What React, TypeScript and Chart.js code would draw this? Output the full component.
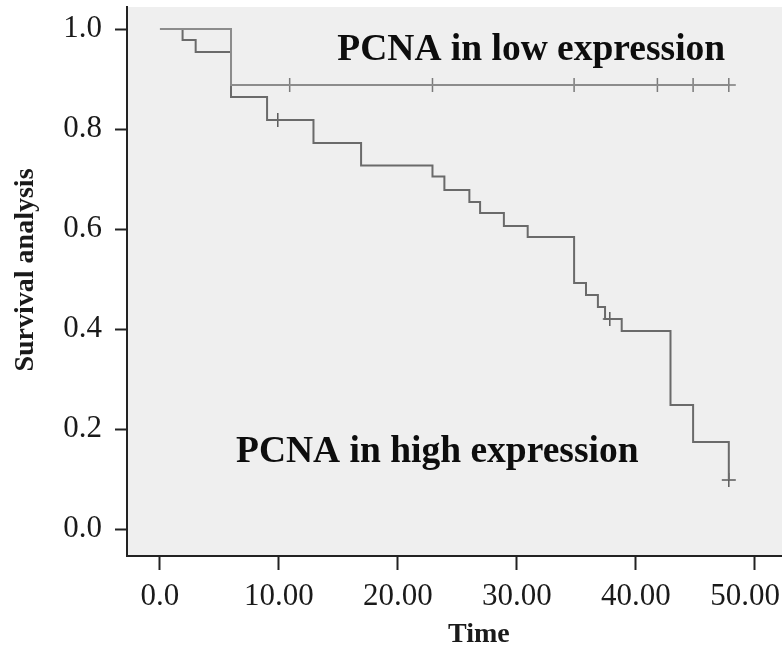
import { useEffect, useRef } from 'react';
import { Chart, registerables } from 'chart.js';

Chart.register(...registerables);

// High-expression group: Kaplan–Meier step points (time, survival)
const highTimes = [0, 1.9, 3.0, 5.97, 9.0, 12.9, 16.9, 22.9, 23.9, 26.0, 26.9, 28.9, 30.9, 34.8, 35.8, 36.8, 37.4, 38.8, 42.9, 44.8, 47.8];
const highSurv = [1.0, 0.978, 0.954, 0.864, 0.818, 0.772, 0.727, 0.705, 0.678, 0.654, 0.632, 0.606, 0.584, 0.492, 0.468, 0.444, 0.42, 0.396, 0.248, 0.174, 0.098];
const highCensorTimes = [9.9, 37.8, 47.8];
const highCensorSurv = [0.818, 0.42, 0.098];

// Low-expression group
const lowTimes = [0, 5.97, 47.8];
const lowSurv = [1.0, 0.888, 0.888];
const lowCensorTimes = [10.9, 22.9, 34.8, 41.8, 44.8, 47.8];
const lowCensorSurv = [0.888, 0.888, 0.888, 0.888, 0.888, 0.888];

// Axis ticks
const xTickValues = [0, 10, 20, 30, 40, 50];
const xTickLabels = ['0.0', '10.00', '20.00', '30.00', '40.00', '50.00'];
const yTickValues = [0, 0.2, 0.4, 0.6, 0.8, 1.0];
const yTickLabels = ['0.0', '0.2', '0.4', '0.6', '0.8', '1.0'];

const xTitle = 'Time';
const yTitle = 'Survival analysis';
const lowLabel = 'PCNA in low expression';
const highLabel = 'PCNA in high expression';

const SERIF = "'Liberation Serif', 'Times New Roman', serif";

export default function App() {
  const ref = useRef<HTMLCanvasElement | null>(null);

  useEffect(() => {
    const canvas = ref.current;
    if (!canvas) return;

    const toPts = (t: number[], s: number[]) => t.map((x, i) => ({ x, y: s[i] }));

    const decor = {
      id: 'decor',
      beforeDraw(chart: any) {
        const { ctx, chartArea } = chart;
        ctx.save();
        ctx.fillStyle = '#efefef';
        ctx.fillRect(chartArea.left, chartArea.top, chartArea.right - chartArea.left, chartArea.bottom - chartArea.top);
        ctx.restore();
      },
      afterDraw(chart: any) {
        const { ctx, chartArea, width } = chart;
        const xs = chart.scales.x;
        const ys = chart.scales.y;
        ctx.save();
        // x tick labels
        ctx.font = `31px ${SERIF}`;
        ctx.fillStyle = '#1a1a1a';
        ctx.textAlign = 'center';
        ctx.textBaseline = 'alphabetic';
        xTickValues.forEach((v, i) => {
          const w = ctx.measureText(xTickLabels[i]).width;
          let px = xs.getPixelForValue(v);
          px = Math.min(px, width - 2 - w / 2);
          ctx.fillText(xTickLabels[i], px, chartArea.bottom + 49);
        });
        // x title
        ctx.font = `bold 28px ${SERIF}`;
        ctx.fillText(xTitle, xs.getPixelForValue(26.8), chartArea.bottom + 86);
        // y title
        ctx.save();
        ctx.translate(33, ys.getPixelForValue(0.518));
        ctx.rotate(-Math.PI / 2);
        ctx.textAlign = 'center';
        ctx.fillText(yTitle, 0, 0);
        ctx.restore();
        // annotations
        ctx.font = `bold 37.5px ${SERIF}`;
        ctx.fillStyle = '#0d0d0d';
        ctx.textAlign = 'center';
        ctx.fillText(lowLabel, xs.getPixelForValue(31.2), ys.getPixelForValue(0.938));
        ctx.fillText(highLabel, xs.getPixelForValue(23.3), ys.getPixelForValue(0.134));
        ctx.restore();
      },
    };

    const chart = new Chart(canvas, {
      type: 'line',
      data: {
        datasets: [
          {
            label: 'low',
            data: toPts(lowTimes, lowSurv),
            stepped: 'before',
            borderColor: '#8c8c8c',
            borderWidth: 2,
            pointRadius: 0,
            fill: false,
          },
          {
            label: 'high',
            data: toPts(highTimes, highSurv),
            stepped: 'before',
            borderColor: '#6a6a6a',
            borderWidth: 2,
            pointRadius: 0,
            fill: false,
          },
          {
            label: 'low censored',
            type: 'scatter',
            data: toPts(lowCensorTimes, lowCensorSurv),
            pointStyle: 'cross',
            pointRadius: 7,
            pointBorderWidth: 1.5,
            pointBorderColor: '#7a7a7a',
            showLine: false,
          } as any,
          {
            label: 'high censored',
            type: 'scatter',
            data: toPts(highCensorTimes, highCensorSurv),
            pointStyle: 'cross',
            pointRadius: 7,
            pointBorderWidth: 1.5,
            pointBorderColor: '#5a5a5a',
            showLine: false,
          } as any,
        ],
      },
      options: {
        animation: false,
        responsive: true,
        maintainAspectRatio: false,
        layout: { autoPadding: false, padding: { top: 7, right: 0, left: 0, bottom: 0 } },
        plugins: {
          legend: { display: false },
          tooltip: { enabled: false },
          title: { display: false },
        },
        scales: {
          x: {
            type: 'linear',
            min: -2.77,
            max: 52.27,
            afterBuildTicks: (s: any) => {
              s.ticks = xTickValues.map((v) => ({ value: v }));
            },
            afterFit: (s: any) => {
              s.height = 92;
              s.paddingLeft = 0;
              s.paddingRight = 0;
            },
            ticks: { display: false },
            grid: {
              drawOnChartArea: false,
              drawTicks: true,
              tickLength: 14,
              tickColor: '#222',
              tickWidth: 2,
            },
            border: { display: true, color: '#222', width: 2 },
          },
          y: {
            type: 'linear',
            min: -0.054,
            max: 1.044,
            afterBuildTicks: (s: any) => {
              s.ticks = yTickValues.map((v) => ({ value: v }));
            },
            afterFit: (s: any) => {
              s.width = 127;
              s.paddingTop = 0;
              s.paddingBottom = 0;
            },
            ticks: {
              callback: (_v: any, i: number) => yTickLabels[i],
              font: { family: SERIF, size: 31 },
              color: '#1a1a1a',
              padding: 13,
            },
            grid: {
              drawOnChartArea: false,
              drawTicks: true,
              tickLength: 12,
              tickColor: '#222',
              tickWidth: 2,
            },
            border: { display: true, color: '#222', width: 2 },
          },
        },
      },
      plugins: [decor],
    } as any);

    return () => chart.destroy();
  }, []);

  return (
    <div style={{ position: 'fixed', left: 0, top: 0, width: 782, height: 648, background: '#fff' }}>
      <canvas ref={ref} />
    </div>
  );
}
